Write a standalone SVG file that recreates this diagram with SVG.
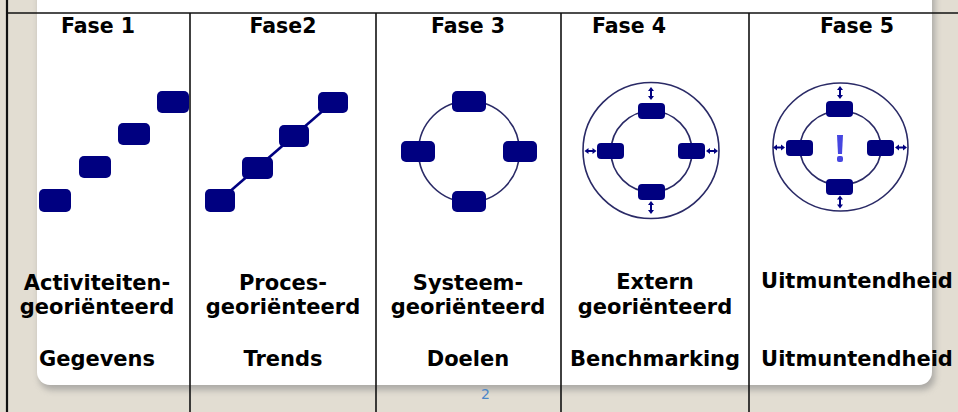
<svg xmlns="http://www.w3.org/2000/svg" width="958" height="412" viewBox="0 0 958 412">
<defs>
<style>
.t{font-family:"DejaVu Sans","Verdana",sans-serif;font-weight:bold;fill:#000;text-anchor:middle}
.h{font-size:20.5px}
.b{font-size:21px}
.nv{fill:#000080}
.ring{fill:none;stroke:#2a2a66;stroke-width:1.6}
.grid{stroke:#111;stroke-width:1.6;fill:none}
</style>
<filter id="sh" x="-5%" y="-5%" width="110%" height="115%">
<feGaussianBlur stdDeviation="3"/>
</filter>
<g id="va">
<line x1="0" y1="-4" x2="0" y2="4" stroke="#000080" stroke-width="2"/>
<polygon points="0,-6.5 -3,-2.5 3,-2.5" fill="#000080"/>
<polygon points="0,6.5 -3,2.5 3,2.5" fill="#000080"/>
</g>
<g id="ha">
<line x1="-4" y1="0" x2="4" y2="0" stroke="#000080" stroke-width="2"/>
<polygon points="-6,0 -2,-3 -2,3" fill="#000080"/>
<polygon points="6,0 2,-3 2,3" fill="#000080"/>
</g>
</defs>
<rect x="0" y="0" width="958" height="412" fill="#e2ddd2"/>
<rect x="39" y="-18" width="896" height="408" rx="13" fill="#888" opacity="0.6" filter="url(#sh)"/>
<rect x="37" y="-20" width="895" height="405" rx="13" fill="#fff"/>

<g id="grid">
<line class="grid" x1="7" y1="13" x2="958" y2="13"/>
<line x1="7" y1="0" x2="7" y2="412" stroke="#111" stroke-width="2.2"/>
<line class="grid" x1="190" y1="13" x2="190" y2="412"/>
<line class="grid" x1="376" y1="13" x2="376" y2="412"/>
<line class="grid" x1="561" y1="13" x2="561" y2="412"/>
<line class="grid" x1="749" y1="13" x2="749" y2="412"/>
</g>

<g id="fase1">
<text class="t h" x="98" y="33">Fase 1</text>
<rect class="nv" x="39" y="189" width="32" height="23" rx="5"/>
<rect class="nv" x="79" y="156" width="32" height="22" rx="5"/>
<rect class="nv" x="118" y="123" width="32" height="22" rx="5"/>
<rect class="nv" x="157" y="91" width="32" height="22" rx="5"/>
<text class="t b" x="97" y="290">Activiteiten-</text>
<text class="t b" x="97" y="314">georiënteerd</text>
<text class="t b" x="97" y="366">Gegevens</text>
</g>

<g id="fase2">
<text class="t h" x="283" y="33">Fase2</text>
<line x1="220" y1="200" x2="333" y2="102" stroke="#000080" stroke-width="2.5"/>
<rect class="nv" x="205" y="189" width="30" height="23" rx="5"/>
<rect class="nv" x="242" y="157" width="31" height="22" rx="5"/>
<rect class="nv" x="279" y="125" width="30" height="22" rx="5"/>
<rect class="nv" x="318" y="92" width="30" height="21" rx="5"/>
<text class="t b" x="283" y="290">Proces-</text>
<text class="t b" x="283" y="314">georiënteerd</text>
<text class="t b" x="283" y="366">Trends</text>
</g>

<g id="fase3">
<text class="t h" x="468" y="33">Fase 3</text>
<circle class="ring" cx="469" cy="151.5" r="50.5"/>
<rect class="nv" x="452" y="91" width="34" height="21" rx="5"/>
<rect class="nv" x="401" y="141" width="34" height="21" rx="5"/>
<rect class="nv" x="503" y="141" width="34" height="21" rx="5"/>
<rect class="nv" x="452" y="191" width="34" height="21" rx="5"/>
<text class="t b" x="468" y="290">Systeem-</text>
<text class="t b" x="468" y="314">georiënteerd</text>
<text class="t b" x="468" y="366">Doelen</text>
</g>

<g id="fase4">
<text class="t h" x="629" y="33">Fase 4</text>
<circle class="ring" cx="651" cy="150.5" r="68"/>
<circle class="ring" cx="651.5" cy="151.5" r="40.5"/>
<rect class="nv" x="638" y="103" width="27" height="16" rx="4"/>
<rect class="nv" x="597" y="143" width="27" height="16" rx="4"/>
<rect class="nv" x="678" y="143" width="27" height="16" rx="4"/>
<rect class="nv" x="638" y="184" width="27" height="16" rx="4"/>
<use href="#va" x="651" y="93.5"/>
<use href="#va" x="651" y="207.5"/>
<use href="#ha" x="590.5" y="151"/>
<use href="#ha" x="712" y="151"/>
<text class="t b" x="655" y="289">Extern</text>
<text class="t b" x="655" y="314">georiënteerd</text>
<text class="t b" x="655" y="366">Benchmarking</text>
</g>

<g id="fase5">
<text class="t h" x="857" y="33">Fase 5</text>
<ellipse class="ring" cx="840.5" cy="147" rx="67.5" ry="64"/>
<ellipse class="ring" cx="840.5" cy="148" rx="40.5" ry="37"/>
<rect class="nv" x="826" y="101" width="27" height="16" rx="4"/>
<rect class="nv" x="786" y="140" width="27" height="16" rx="4"/>
<rect class="nv" x="867" y="140" width="27" height="16" rx="4"/>
<rect class="nv" x="826" y="179" width="27" height="16" rx="4"/>
<use href="#va" x="840" y="92.5"/>
<use href="#va" x="840" y="202"/>
<use href="#ha" x="779" y="147.5"/>
<use href="#ha" x="901" y="147.5"/>
<path d="M837,135 h6 l-1,19 h-4 z" fill="#4646e0"/>
<rect x="837" y="156" width="6" height="6" rx="2" fill="#4646e0"/>
<text class="t b" x="857" y="288">Uitmuntendheid</text>
<text class="t b" x="857" y="366">Uitmuntendheid</text>
</g>

<text x="485.5" y="399" font-family="DejaVu Sans, sans-serif" font-size="14" fill="#4a86c8" text-anchor="middle">2</text>
</svg>
